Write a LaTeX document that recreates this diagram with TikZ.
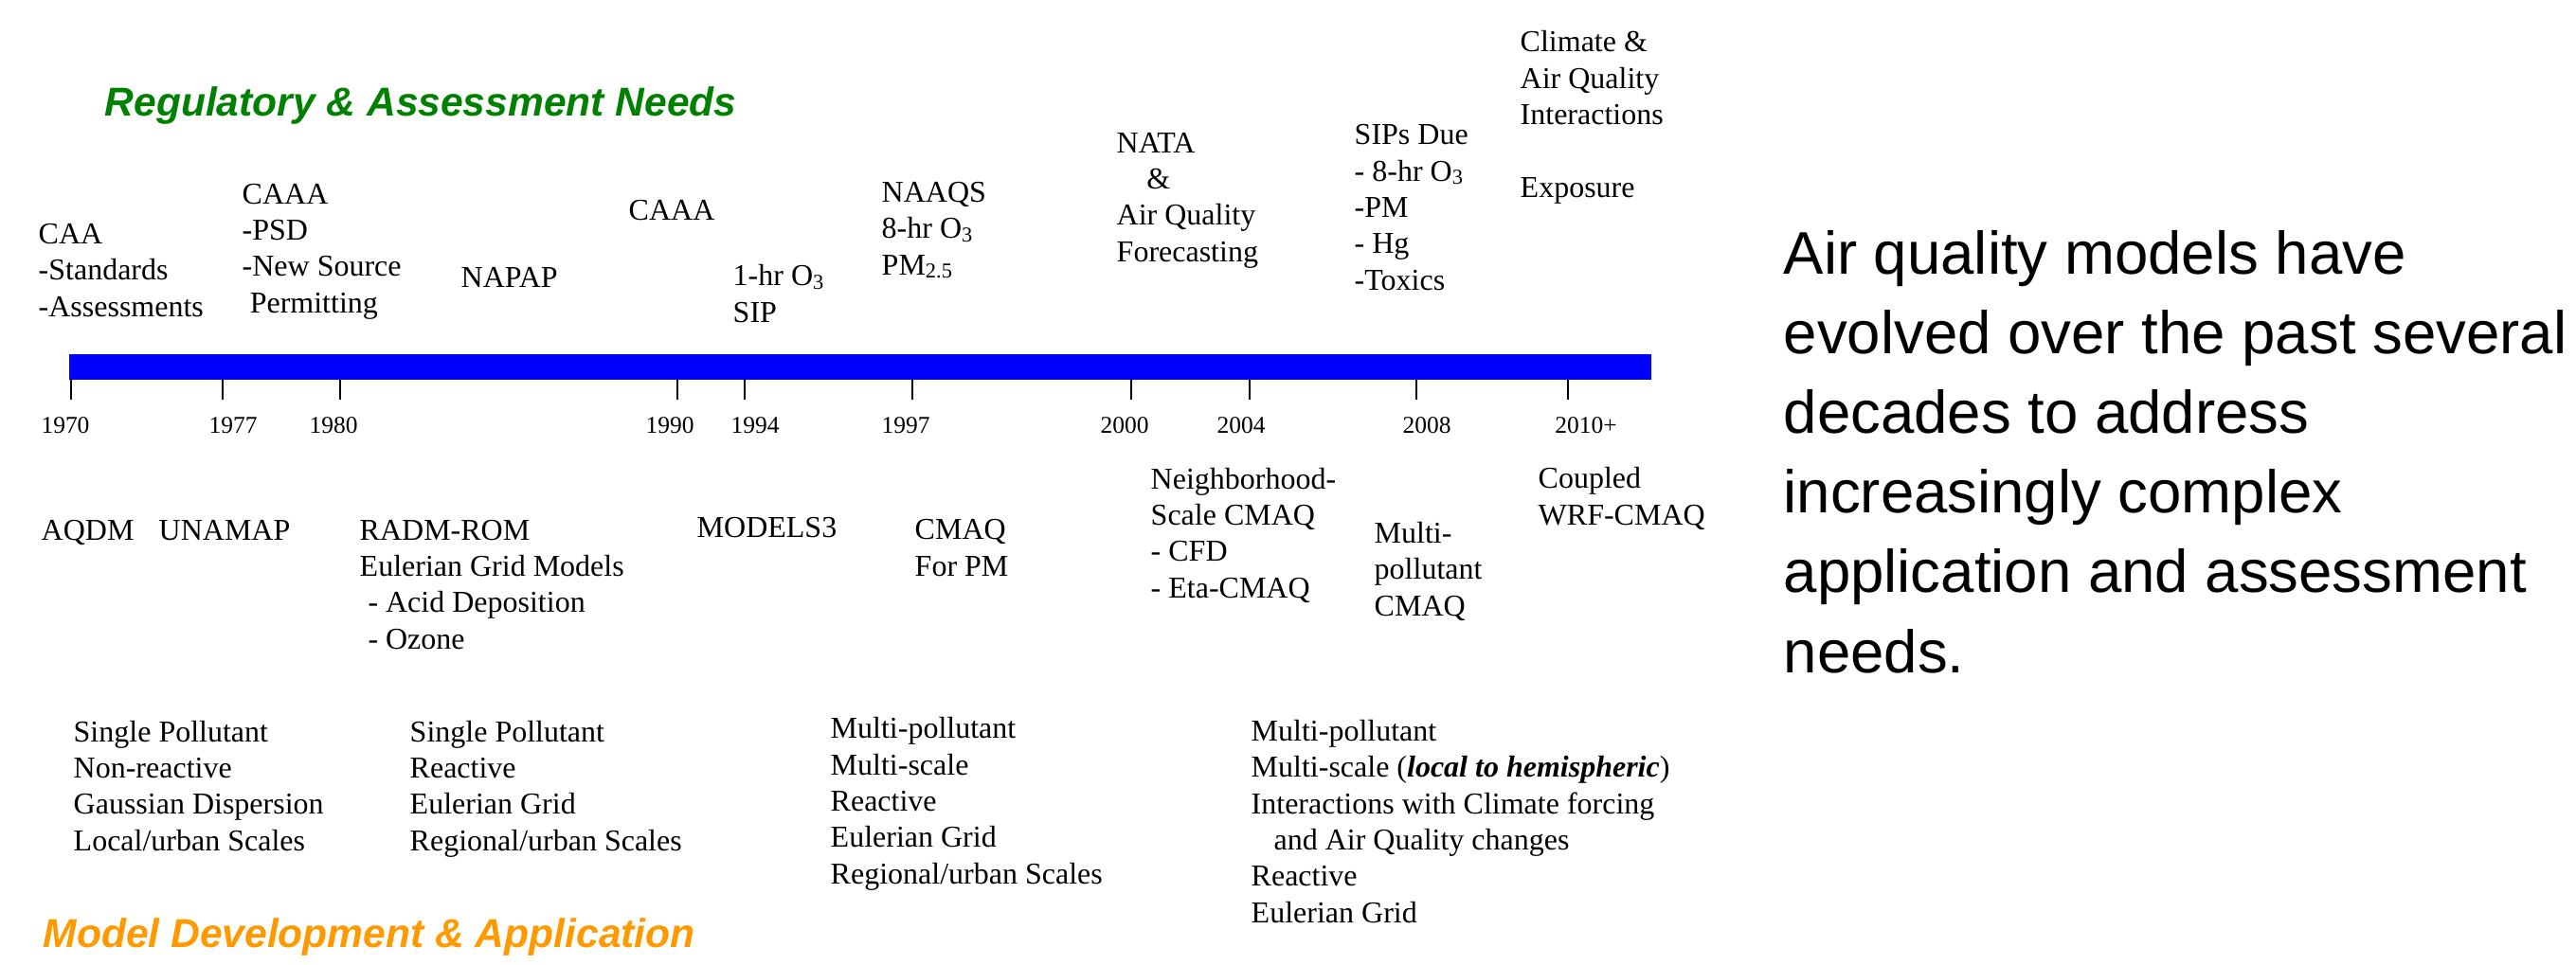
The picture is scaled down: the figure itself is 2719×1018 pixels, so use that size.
\documentclass[tikz,border=0pt]{standalone}
\usepackage{fontspec}
\setmainfont{Liberation Serif}
\setsansfont{Liberation Sans}
\usepackage{tikz}

\definecolor{needgreen}{RGB}{0,128,0}
\definecolor{modelorange}{RGB}{255,153,0}
\definecolor{barblue}{RGB}{0,0,255}

\tikzset{
  entry/.style={anchor=base west, inner sep=0pt, align=left, font=\fontsize{9.1}{10.9}\selectfont},
  yearlbl/.style={anchor=base, inner sep=0pt, font=\fontsize{7.25}{8.7}\selectfont},
  heading/.style={anchor=base west, inner sep=0pt, font=\sffamily\bfseries\itshape\fontsize{12.1}{14}\selectfont},
  note/.style={anchor=base west, inner sep=0pt, align=left, font=\sffamily\fontsize{18.07}{23.9}\selectfont}
}

\begin{document}
\begin{tikzpicture}[x=0.01cm, y=-0.01cm]
	\useasboundingbox (0,0) rectangle (2719,1018);

	%headings
	\node[heading, text=needgreen] (regneeds) at (110,122) {Regulatory \& Assessment Needs};
	\node[heading, text=modelorange] (modeldev) at (45,1000) {Model Development \& Application};

	%timeline bar and ticks
	\fill[barblue] (73,374) rectangle (1743,401);
	\foreach \t/\lx/\yr [count=\i] in {75/69/1970, 235/246/1977, 359/352/1980, 715/707/1990, 786/797/1994,
		963/956/1997, 1194/1187/2000, 1319/1310/2004, 1495/1506/2008, 1655/1674/2010+}
	{
		\draw[line width=0.4pt] (\t,401)--(\t,422);
		\node[yearlbl] (year\i) at (\lx,457) {\yr};
	}

	%regulatory needs, above the bar (anchored at the last line)
	\node[entry] (caa) at (40,334) {CAA\\-Standards\\-Assessments};
	\node[entry] (caaa77) at (255,330) {CAAA\\-PSD\\-New Source\\\hspace*{2.3pt}Permitting};
	\node[entry] (napap) at (486,303) {NAPAP};
	\node[entry] (caaa90) at (663,232) {CAAA};
	\node[entry] (sip) at (773,340) {1-hr O\textsubscript{3}\\SIP};
	\node[entry] (naaqs) at (930,290) {NAAQS\\8-hr O\textsubscript{3}\\PM\textsubscript{2.5}};
	\node[entry] (nata) at (1178,276) {NATA\\\hspace*{9pt}\&\\Air Quality\\Forecasting};
	\node[entry] (sipsdue) at (1429,306) {SIPs Due\\- 8-hr O\textsubscript{3}\\-PM\\- Hg\\-Toxics};
	\node[entry] (climate) at (1604,208) {Climate \&\\Air Quality\\Interactions\\[10.9pt]Exposure};

	%models, below the bar
	\node[entry] (aqdm) at (43,570) {AQDM};
	\node[entry] (unamap) at (167,570) {UNAMAP};
	\node[entry] (radm) at (379,685) {RADM-ROM\\Eulerian Grid Models\\\hspace*{2.5pt}- Acid Deposition\\\hspace*{2.5pt}- Ozone};
	\node[entry] (models3) at (735,567) {MODELS3};
	\node[entry] (cmaq) at (965,608) {CMAQ\\For PM};
	\node[entry] (neighcmaq) at (1214,631) {Neighborhood-\\Scale CMAQ\\- CFD\\- Eta-CMAQ};
	\node[entry] (multicmaq) at (1450,650) {Multi-\\pollutant\\CMAQ};
	\node[entry] (wrfcmaq) at (1623,554) {Coupled\\WRF-CMAQ};

	%model features
	\node[entry] (feat1) at (77,898) {Single Pollutant\\Non-reactive\\Gaussian Dispersion\\Local/urban Scales};
	\node[entry] (feat2) at (432,898) {Single Pollutant\\Reactive\\Eulerian Grid\\Regional/urban Scales};
	\node[entry] (feat3) at (876,933) {Multi-pollutant\\Multi-scale\\Reactive\\Eulerian Grid\\Regional/urban Scales};
	\node[entry] (feat4) at (1320,974) {Multi-pollutant\\Multi-scale (\textbf{\textit{local to hemispheric}})\\Interactions with Climate forcing\\\hspace*{6.8pt}and Air Quality changes\\Reactive\\Eulerian Grid};

	%summary text
	\node[note] (summary) at (1882,710) {Air quality models have\\evolved over the past several\\decades to address\\increasingly complex\\application and assessment\\needs.};
\end{tikzpicture}
\end{document}
